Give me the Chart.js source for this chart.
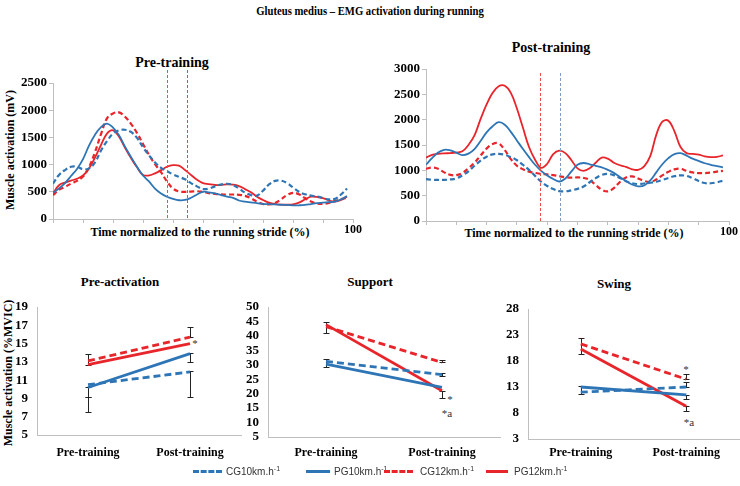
<!DOCTYPE html>
<html>
<head>
<meta charset="utf-8">
<script src="https://cdn.jsdelivr.net/npm/chart.js@4.4.0/dist/chart.umd.min.js"></script>
<style>
  body { margin: 0; background: #fff; width: 740px; height: 486px; position: relative; overflow: hidden; font-family: "Liberation Serif", serif; }
  canvas { position: absolute; }
  .t { position: absolute; font-weight: bold; white-space: nowrap; transform: translate(-50%, -50%); color: #000; }
  .rot { transform: translate(-50%, -50%) rotate(-90deg); }
  .note { position: absolute; white-space: nowrap; font-size: 11px; color: #333; transform: translate(-50%, -50%); }
  .leg { position: absolute; top: 471px; transform: translateY(-50%); font-family: "Liberation Sans", sans-serif; font-size: 10px; color: #333; white-space: nowrap; }
  .sw { position: absolute; top: 470px; height: 0; }
</style>
</head>
<body>
<div class="t" style="left:370px;top:11px;font-size:13px;transform:translate(-50%,-50%) scaleX(0.82)">Gluteus medius – EMG activation during running</div>

<div class="t" style="left:172px;top:63px;font-size:14px">Pre-training</div>
<div class="t" style="left:551px;top:48px;font-size:14px">Post-training</div>
<div class="t rot" style="left:10px;top:150px;font-size:12px">Muscle activation (mV)</div>
<div class="t" style="left:200px;top:232px;font-size:12px">Time normalized to the running stride (%)</div>
<div class="t" style="left:574px;top:233px;font-size:12px">Time normalized to the running stride (%)</div>

<div class="t" style="left:120px;top:282px;font-size:13px">Pre-activation</div>
<div class="t" style="left:370px;top:282px;font-size:13px">Support</div>
<div class="t" style="left:614px;top:284px;font-size:13px">Swing</div>
<div class="t rot" style="left:8px;top:373px;font-size:12px">Muscle activation (%MVIC)</div>

<div class="note" style="left:195px;top:343px">*</div>
<div class="note" style="left:450px;top:399px">*</div>
<div class="note" style="left:447px;top:413px">*a</div>
<div class="note" style="left:686px;top:369px">*</div>
<div class="note" style="left:689px;top:422px">*a</div>

<canvas id="preChart" width="370" height="200" style="left:0;top:40px"></canvas>
<canvas id="postChart" width="370" height="200" style="left:370px;top:40px"></canvas>
<canvas id="preActChart" width="250" height="180" style="left:0;top:290px"></canvas>
<canvas id="supportChart" width="280" height="180" style="left:230px;top:290px"></canvas>
<canvas id="swingChart" width="250" height="180" style="left:490px;top:290px"></canvas>

<div class="sw" style="left:193px;width:29px;border-top:3px dashed #2E75B6"></div>
<div class="leg" style="left:226px">CG10km.h<sup style="font-size:7px">-1</sup></div>
<div class="sw" style="left:306px;width:24px;border-top:3px solid #2E75B6"></div>
<div class="leg" style="left:334px">PG10km.h<sup style="font-size:7px">-1</sup></div>
<div class="sw" style="left:384px;width:29px;border-top:3px dashed #E8252B"></div>
<div class="leg" style="left:420px">CG12km.h<sup style="font-size:7px">-1</sup></div>
<div class="sw" style="left:486px;width:22px;border-top:3px solid #E8252B"></div>
<div class="leg" style="left:514px">PG12km.h<sup style="font-size:7px">-1</sup></div>

<script>
// stride time (%) at which the curves were read
const stride = [0, 2, 4, 6, 8, 10, 12, 14, 16, 18, 20, 22, 24, 26, 28, 30, 32, 34, 36, 38,
                40, 42, 44, 46, 48, 50, 52, 54, 56, 58, 60, 62, 64, 66, 68, 70, 72, 74, 76, 78,
                80, 82, 84, 86, 88, 90, 92, 94, 96, 98];

// EMG curves (mV), pre-training
const preCG10 = [650, 810, 900, 960, 960, 915, 930, 1040, 1260, 1430, 1570, 1630, 1640, 1600, 1490, 1320, 1170, 1040, 940, 880,
                 820, 775, 730, 660, 600, 550, 560, 600, 635, 648, 625, 560, 485, 440, 430, 520, 636, 700, 705, 660,
                 580, 500, 455, 430, 415, 385, 360, 370, 450, 560];
const prePG10 = [480, 560, 660, 790, 920, 1100, 1350, 1550, 1690, 1755, 1680, 1540, 1330, 1140, 960, 800, 690, 560, 470, 410,
                 370, 345, 350, 390, 450, 500, 490, 470, 440, 410, 390, 340, 320, 305, 290, 278, 272, 268, 262, 258,
                 252, 252, 258, 275, 290, 300, 310, 320, 360, 420];
const preCG12 = [440, 535, 590, 650, 700, 780, 950, 1230, 1560, 1850, 1940, 1960, 1880, 1750, 1580, 1380, 1180, 1010, 860, 690,
                 560, 505, 500, 505, 510, 500, 475, 463, 455, 450, 450, 445, 425, 380, 320, 275, 270, 295, 360, 440,
                 480, 455, 385, 320, 285, 280, 296, 330, 365, 390];
const prePG12 = [470, 620, 670, 705, 740, 800, 930, 1130, 1360, 1570, 1630, 1510, 1310, 1120, 950, 810, 800, 840, 895, 960,
                 990, 980, 900, 810, 720, 660, 640, 625, 625, 635, 630, 605, 550, 490, 410, 350, 300, 275, 265, 262,
                 268, 300, 360, 410, 405, 385, 340, 320, 350, 410];

// EMG curves (mV), post-training
const postCG10 = [825, 815, 812, 812, 820, 840, 900, 980, 1090, 1190, 1270, 1315, 1325, 1305, 1260, 1200, 1110, 1010, 890, 775,
                  690, 630, 590, 585, 605, 635, 680, 765, 845, 910, 930, 905, 850, 785, 745, 730, 740, 755, 775, 810,
                  850, 885, 900, 890, 845, 790, 750, 745, 765, 795];
const postPG10 = [1110, 1240, 1350, 1405, 1395, 1350, 1300, 1330, 1420, 1580, 1750, 1870, 1950, 1900, 1760, 1590, 1420, 1260, 1110, 990,
                  900, 830, 780, 840, 980, 1110, 1145, 1120, 1090, 1060, 1010, 950, 870, 790, 720, 685, 700, 800, 960, 1120,
                  1240, 1320, 1340, 1290, 1230, 1185, 1140, 1110, 1085, 1060];
const postCG12 = [1030, 1055, 1030, 960, 910, 905, 950, 1040, 1150, 1290, 1430, 1520, 1530, 1400, 1220, 1090, 1020, 975, 950, 930,
                  920, 905, 885, 865, 855, 860, 850, 810, 710, 620, 585, 650, 770, 860, 880, 840, 790, 770, 820, 900,
                  970, 1020, 1030, 990, 960, 945, 945, 955, 975, 990];
const postPG12 = [1250, 1305, 1325, 1335, 1340, 1350, 1375, 1500, 1690, 2010, 2300, 2530, 2660, 2670, 2530, 2220, 1840, 1460, 1210, 1050,
                  1130, 1320, 1390, 1340, 1200, 1040, 990, 1040, 1150, 1250, 1230, 1150, 1100, 1070, 1020, 1010, 1080, 1280, 1700, 1960,
                  1980, 1770, 1460, 1340, 1325, 1310, 1275, 1260, 1265, 1295];

// stance/swing transitions (% of stride): [red, blue]
const preTransitions = [38, 44.5];
const postTransitions = [37.7, 44.3];

// phase means (%MVIC)
const phases = ['Pre-training', 'Post-training'];
const preActCG10 = [10.5, 11.9];
const preActPG10 = [10.2, 13.9];
const preActCG12 = [13.1, 15.7];
const preActPG12 = [12.7, 15.0];
const supportCG10 = [31.2, 26.6];
const supportPG10 = [30.2, 22.2];
const supportCG12 = [43.2, 30.8];
const supportPG12 = [43.9, 21.0];
const swingCG10 = [12.0, 13.0];
const swingPG10 = [13.0, 11.5];
const swingCG12 = [21.3, 14.5];
const swingPG12 = [20.3, 9.3];

// error bars: [phase index, low, high]
const preActErr = [[0, 12.7, 13.9], [0, 9.2, 10.2], [0, 7.5, 9.2], [1, 15.7, 16.8], [1, 13.0, 14.0], [1, 9.2, 12.0]];
const supportErr = [[0, 41.0, 44.7], [0, 29.4, 32.0], [1, 30.8, 31.8], [1, 26.0, 27.2], [1, 18.5, 21.0]];
const swingErr = [[0, 19.4, 22.4], [0, 11.7, 13.1], [1, 14.5, 15.5], [1, 13.0, 13.9], [1, 10.6, 11.5], [1, 8.4, 9.3]];

const BLUE = '#2E75B6';
const RED = '#E8252B';
const AXIS = '#bfbfbf';
const tickFont = { family: 'Liberation Serif', size: 13, weight: 'bold' };

const transitionPlugin = {
  id: 'transitions',
  afterDatasetsDraw(chart, args, opts) {
    if (!opts.values) return;
    const { ctx, chartArea, scales } = chart;
    opts.values.forEach((v, i) => {
      const x = Math.round(scales.x.getPixelForValue(v)) + 0.5;
      ctx.save();
      ctx.strokeStyle = opts.colors[i];
      ctx.lineWidth = 1;
      ctx.setLineDash([3, 2]);
      ctx.beginPath();
      ctx.moveTo(x, chartArea.top - opts.overhang);
      ctx.lineTo(x, chartArea.bottom);
      ctx.stroke();
      ctx.restore();
    });
  }
};

const errorPlugin = {
  id: 'errbars',
  beforeDatasetsDraw(chart, args, opts) {
    if (!opts.bars) return;
    const { ctx, scales: { x, y } } = chart;
    ctx.save();
    ctx.strokeStyle = '#222';
    ctx.lineWidth = 1;
    opts.bars.forEach(([i, lo, hi]) => {
      const px = Math.round(x.getPixelForValue(i)) + 0.5;
      const y1 = Math.round(y.getPixelForValue(lo)) + 0.5;
      const y2 = Math.round(y.getPixelForValue(hi)) + 0.5;
      ctx.beginPath();
      ctx.moveTo(px, y1); ctx.lineTo(px, y2);
      ctx.moveTo(px - 3, y1); ctx.lineTo(px + 3, y1);
      ctx.moveTo(px - 3, y2); ctx.lineTo(px + 3, y2);
      ctx.stroke();
    });
    ctx.restore();
  }
};

function curve(values, color, dashed) {
  return {
    data: values.map((v, i) => ({ x: stride[i], y: v })),
    borderColor: color,
    borderWidth: dashed ? 2.2 : 1.8,
    borderDash: dashed ? [5, 3] : [],
    pointRadius: 0,
    tension: 0.4,
    fill: false
  };
}

function emgChart(id, sets, yMax, box, transitions) {
  new Chart(document.getElementById(id), {
    type: 'line',
    data: { datasets: sets },
    options: {
      responsive: false,
      animation: false,
      layout: { padding: { left: 0, right: box.right, top: box.top, bottom: 0 } },
      plugins: {
        legend: { display: false },
        tooltip: { enabled: false },
        transitions: { values: transitions, colors: ['#EE4B4B', box.blueLine], overhang: box.overhang }
      },
      scales: {
        x: {
          type: 'linear', min: 0, max: 100,
          ticks: { stepSize: 10, autoSkip: false, maxRotation: 0, padding: 0, font: { family: 'Liberation Serif', size: 12, weight: 'bold' }, color: '#000',
                   callback: v => v === 100 ? '100' : '' },
          grid: { drawOnChartArea: false, tickLength: 4, color: AXIS },
          border: { color: AXIS },
          afterFit: s => { s.height = box.xh; }
        },
        y: {
          min: 0, max: yMax,
          ticks: { stepSize: 500, autoSkip: false, padding: 2, font: tickFont, color: '#000', callback: v => String(v) },
          grid: { drawOnChartArea: false, tickLength: 4, color: AXIS },
          border: { color: AXIS },
          afterFit: s => { s.width = box.yw; }
        }
      }
    },
    plugins: [transitionPlugin]
  });
}

emgChart('preChart', [curve(preCG10, BLUE, true), curve(prePG10, BLUE, false), curve(preCG12, RED, true), curve(prePG12, RED, false)],
  2500, { right: 17, top: 43, xh: 21, yw: 53, overhang: 13, blueLine: '#3F7FC4' }, preTransitions);
emgChart('postChart', [curve(postCG10, BLUE, true), curve(postPG10, BLUE, false), curve(postCG12, RED, true), curve(postPG12, RED, false)],
  3000, { right: 11, top: 29, xh: 19, yw: 56, overhang: -4, blueLine: '#7D9CC8' }, postTransitions);

function phaseLine(values, color, dashed) {
  return {
    data: values,
    borderColor: color,
    borderWidth: 2.8,
    borderDash: dashed ? [7, 4] : [],
    pointRadius: 0,
    tension: 0,
    fill: false
  };
}

function phaseChart(id, sets, yMin, yMax, step, box, bars) {
  new Chart(document.getElementById(id), {
    type: 'line',
    data: { labels: phases, datasets: sets },
    options: {
      responsive: false,
      animation: false,
      layout: { padding: { left: 0, right: box.right, top: box.top, bottom: 0 } },
      plugins: { legend: { display: false }, tooltip: { enabled: false }, errbars: { bars: bars } },
      scales: {
        x: {
          type: 'category', offset: true,
          ticks: { padding: box.lp, font: { family: 'Liberation Serif', size: 12, weight: 'bold' }, color: '#000', maxRotation: 0, autoSkip: false },
          grid: { display: false, drawTicks: false },
          border: { color: AXIS },
          afterFit: s => { s.height = box.xh; }
        },
        y: {
          min: yMin, max: yMax,
          ticks: { stepSize: step, autoSkip: false, padding: 9, font: tickFont, color: '#000', callback: v => String(v) },
          grid: { display: false, drawTicks: false },
          border: { color: AXIS },
          afterFit: s => { s.width = box.yw; }
        }
      }
    },
    plugins: [errorPlugin]
  });
}

phaseChart('preActChart',
  [phaseLine(preActCG10, BLUE, true), phaseLine(preActPG10, BLUE, false), phaseLine(preActCG12, RED, true), phaseLine(preActPG12, RED, false)],
  5, 19, 2, { right: 9, top: 17, xh: 35, yw: 37, lp: 11 }, preActErr);
phaseChart('supportChart',
  [phaseLine(supportCG10, BLUE, true), phaseLine(supportPG10, BLUE, false), phaseLine(supportCG12, RED, true), phaseLine(supportPG12, RED, false)],
  5, 50, 5, { right: 10, top: 17, xh: 33, yw: 38, lp: 9 }, supportErr);
phaseChart('swingChart',
  [phaseLine(swingCG10, BLUE, true), phaseLine(swingPG10, BLUE, false), phaseLine(swingCG12, RED, true), phaseLine(swingPG12, RED, false)],
  3, 28, 5, { right: 1, top: 19, xh: 31, yw: 38, lp: 7 }, swingErr);
</script>
</body>
</html>
